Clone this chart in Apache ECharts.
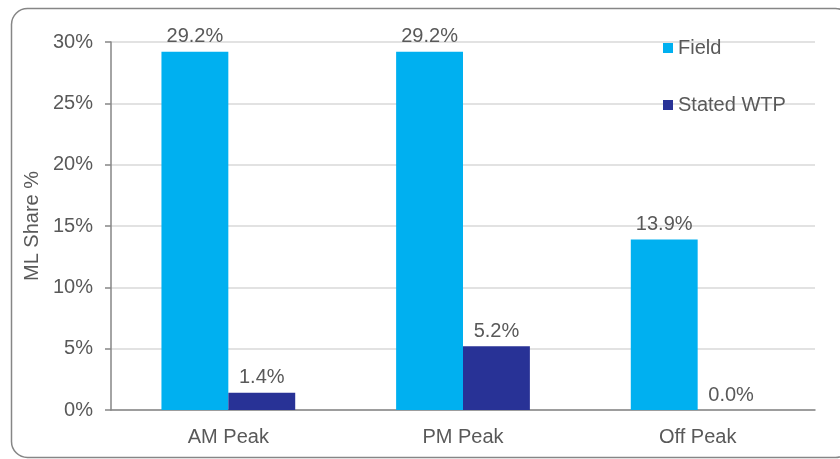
<!DOCTYPE html>
<html>
<head>
<meta charset="utf-8">
<script src="https://cdn.jsdelivr.net/npm/echarts@6/dist/echarts.min.js"></script>
<style>
html,body{margin:0;padding:0;background:#fff;}
#chart{width:840px;height:459px;}
</style>
</head>
<body>
<div id="chart"></div>
<script>
const categories = ['AM Peak', 'PM Peak', 'Off Peak'];
const fieldValues = [29.2, 29.2, 13.9];
const statedValues = [1.4, 5.2, 0.0];
const seriesNames = ['Field', 'Stated WTP'];
const yTicks = [0, 5, 10, 15, 20, 25, 30];

const txt = '#595959';
const font = 'Liberation Sans, Arial, sans-serif';
const fs = 20;
const chart = echarts.init(document.getElementById('chart'));
chart.setOption({
  animation: false,
  textStyle: { fontFamily: font },
  graphic: [{
    type: 'rect',
    shape: { x: 11.5, y: 8.5, width: 840, height: 449, r: 16 },
    style: { fill: 'none', stroke: '#868686', lineWidth: 1.5 },
    z: -1
  }],
  grid: { left: 111, right: 25, top: 42, bottom: 49 },
  legend: {
    orient: 'vertical',
    left: 663,
    top: 38,
    padding: 0,
    itemWidth: 10,
    itemHeight: 10,
    itemGap: 37,
    icon: 'rect',
    textStyle: { color: txt, fontSize: fs, fontFamily: font },
    data: seriesNames
  },
  xAxis: {
    type: 'category',
    data: categories,
    axisLine: { lineStyle: { color: '#868686', width: 1.5 } },
    axisTick: { show: false },
    axisLabel: { color: txt, fontSize: fs, margin: 17, fontFamily: font }
  },
  yAxis: {
    type: 'value',
    min: yTicks[0],
    max: yTicks[yTicks.length - 1],
    interval: 5,
    name: 'ML Share %',
    nameLocation: 'middle',
    nameGap: 63,
    nameTextStyle: { color: txt, fontSize: fs, fontFamily: font },
    axisLine: { show: true, lineStyle: { color: '#868686', width: 1.5 } },
    axisTick: { show: true, length: 6, lineStyle: { color: '#868686', width: 1.5 } },
    splitLine: { lineStyle: { color: '#d9d9d9', width: 1.5 } },
    axisLabel: { color: txt, fontSize: fs, margin: 18, fontFamily: font, formatter: v => v + '%' }
  },
  series: [
    {
      name: seriesNames[0],
      type: 'bar',
      data: fieldValues,
      barGap: '0%',
      barCategoryGap: '43%',
      itemStyle: { color: '#00B0F0' },
      label: { show: true, position: 'top', distance: 5, color: txt, fontSize: fs, fontFamily: font, formatter: p => p.value.toFixed(1) + '%' }
    },
    {
      name: seriesNames[1],
      type: 'bar',
      data: statedValues,
      itemStyle: { color: '#283296' },
      label: { show: true, position: 'top', distance: 5, color: txt, fontSize: fs, fontFamily: font, formatter: p => p.value.toFixed(1) + '%' }
    }
  ]
});
</script>
</body>
</html>
